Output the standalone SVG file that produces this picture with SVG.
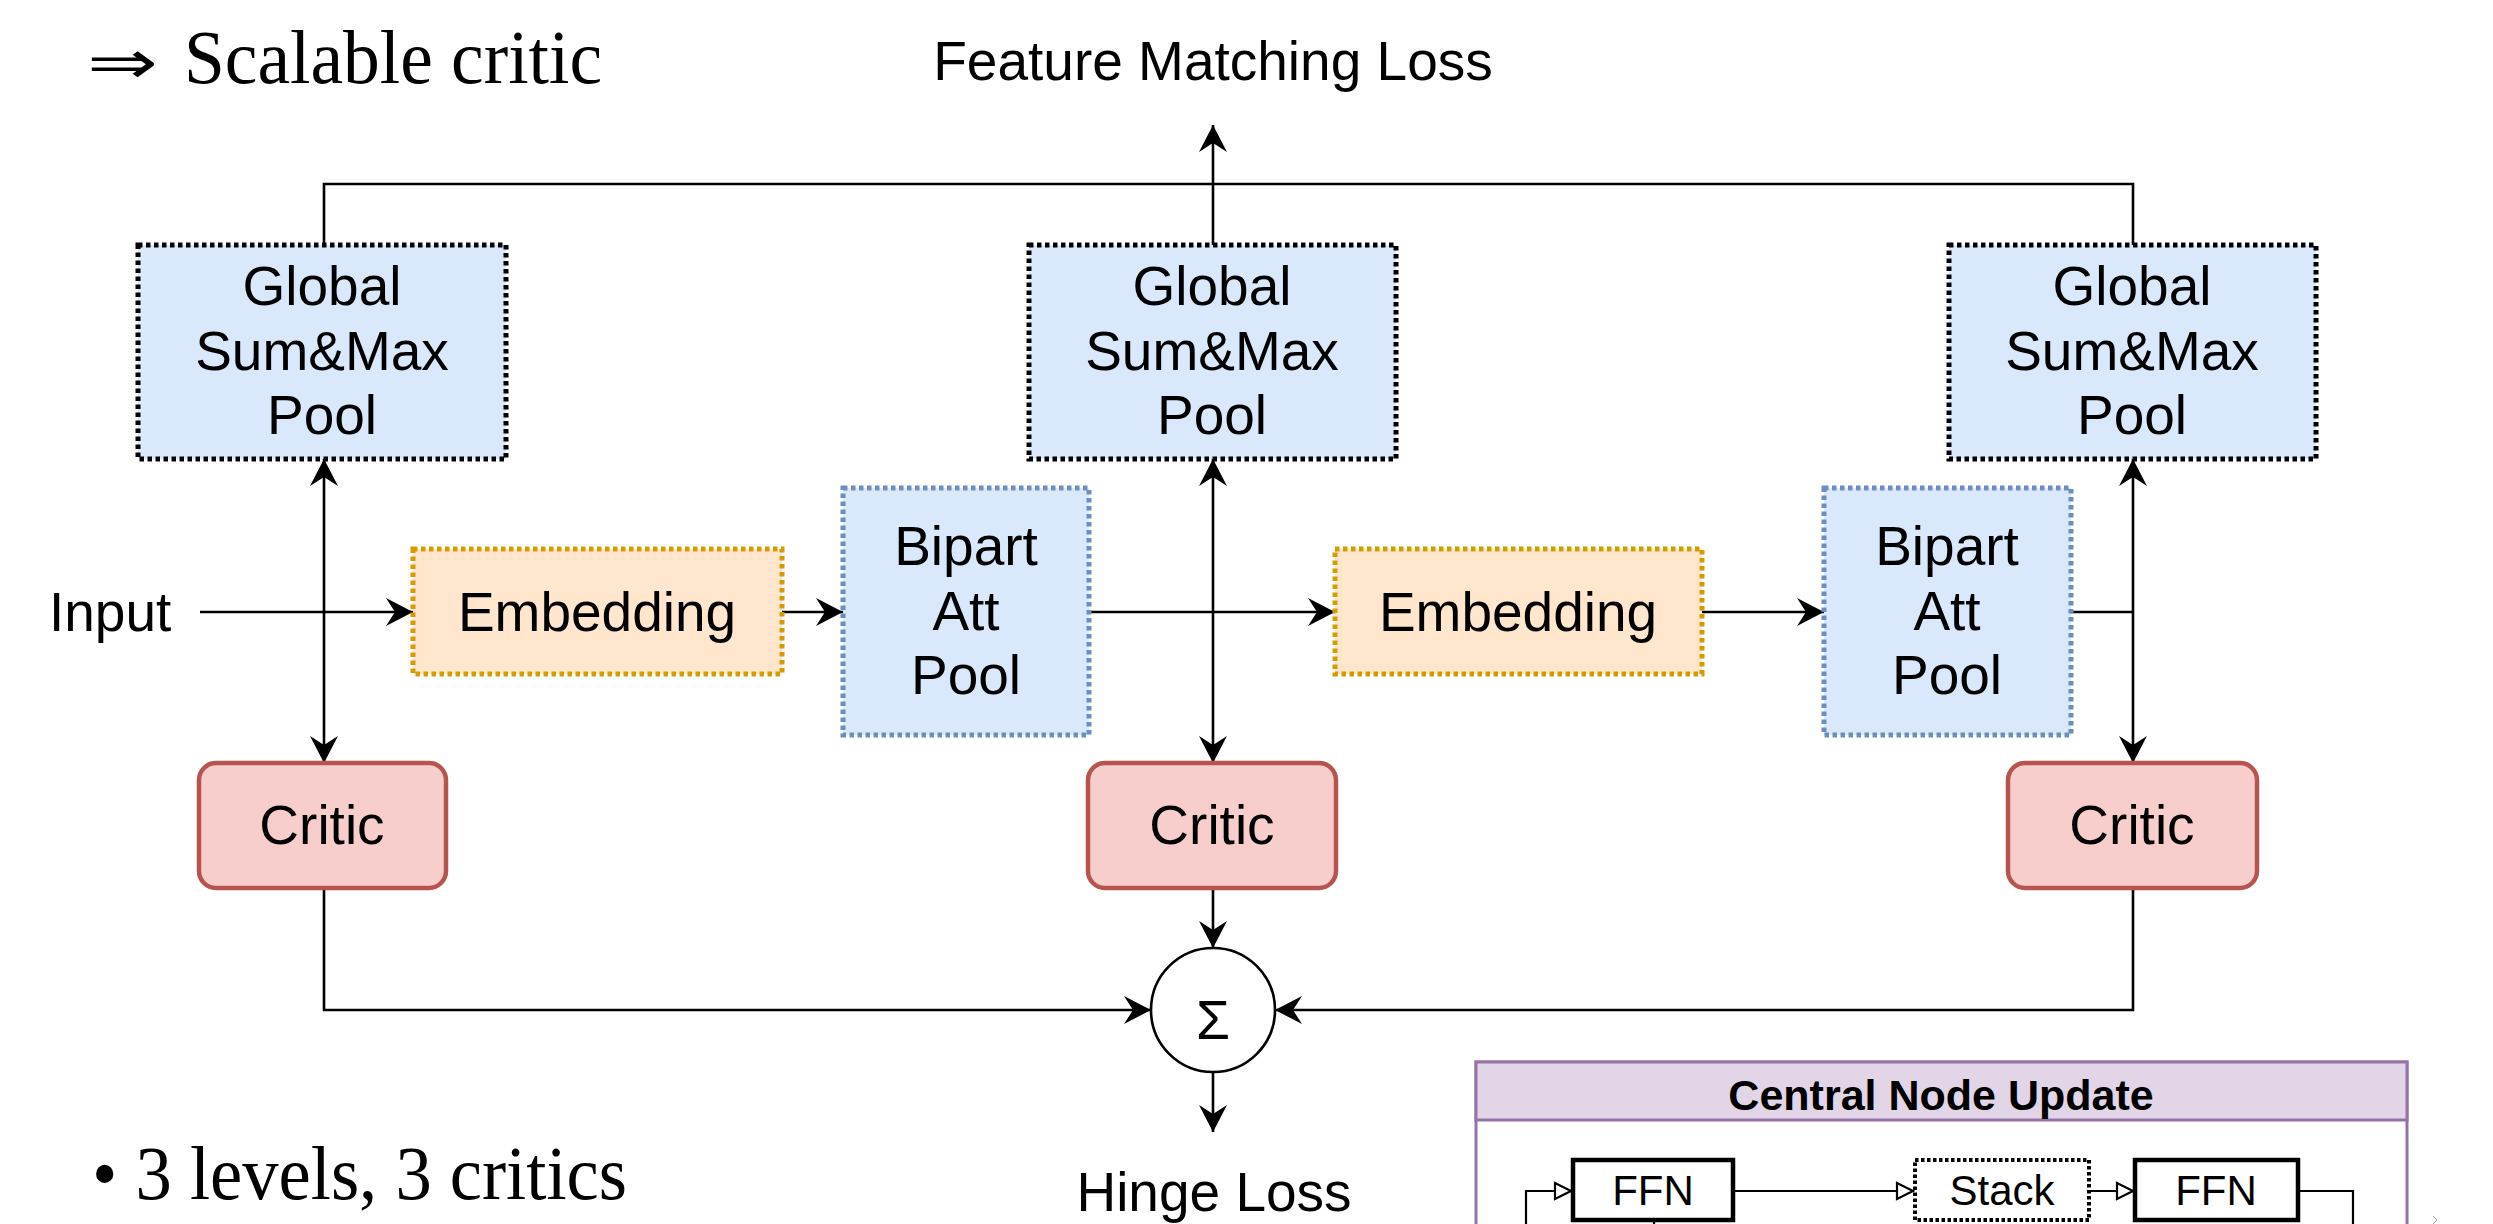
<svg xmlns="http://www.w3.org/2000/svg" width="2493" height="1224" viewBox="0 0 2493 1224">
  <defs>
    <style>
      .lbl { font-family: "Liberation Sans", Arial, sans-serif; font-size: 55px; fill: #000; text-anchor: middle; }
      .serif { font-family: "Liberation Serif", "Times New Roman", serif; font-size: 77px; fill: #000; }
      .pool { fill: #dae8fc; stroke: #000; stroke-width: 5; stroke-dasharray: 4.5 3.5; }
      .bip { fill: #dae8fc; stroke: #6c8ebf; stroke-width: 5; stroke-dasharray: 4.5 3.5; }
      .emb { fill: #ffe6cc; stroke: #d79b00; stroke-width: 5; stroke-dasharray: 4.5 3.5; }
      .critic { fill: #f8cecc; stroke: #b85450; stroke-width: 4.5; }
      .wire { fill: none; stroke: #000; stroke-width: 2.6; }
      .thin { fill: none; stroke: #000; stroke-width: 2.2; }
      .small { font-family: "Liberation Sans", Arial, sans-serif; font-size: 42px; fill: #000; text-anchor: middle; }
      .box { fill: #fff; stroke: #000; stroke-width: 4.5; }
    </style>
    <!-- filled classic arrowhead, tip at the path end -->
    <marker id="arr" markerUnits="userSpaceOnUse" viewBox="-30 -16 32 32" markerWidth="32" markerHeight="32" refX="0" refY="0" orient="auto-start-reverse">
      <path d="M0 0 L-27 -14 L-18 0 L-27 14 Z" fill="#000"/>
    </marker>
    <!-- hollow triangle arrowhead used inside the update panel -->
    <marker id="open" markerUnits="userSpaceOnUse" viewBox="-22 -12 24 24" markerWidth="24" markerHeight="24" refX="0" refY="0" orient="auto">
      <path d="M-1 0 L-17 -8 L-17 8 Z" fill="#fff" stroke="#000" stroke-width="2.2"/>
    </marker>
  </defs>

  <!-- headings -->
  <text x="87" y="83" font-family="DejaVu Sans, sans-serif" font-size="60" textLength="71" lengthAdjust="spacingAndGlyphs">⇒</text>
  <text class="serif" x="184" y="83" textLength="418" lengthAdjust="spacingAndGlyphs">Scalable critic</text>
  <text class="lbl" x="1213" y="80">Feature Matching Loss</text>
  <text class="serif" x="92" y="1199" font-size="76" textLength="535" lengthAdjust="spacingAndGlyphs">• 3 levels, 3 critics</text>
  <text class="lbl" x="1214" y="1211">Hinge Loss</text>
  <text class="lbl" x="49" y="631" style="text-anchor:start">Input</text>

  <!-- connectors -->
  <g id="connectors">
    <path class="wire" d="M324 245 V184 H2133 V245"/>
    <path class="wire" d="M1213 245 V125" marker-end="url(#arr)"/>
    <path class="wire" d="M200 612 H413" marker-end="url(#arr)"/>
    <path class="wire" d="M324 459 V763" marker-start="url(#arr)" marker-end="url(#arr)"/>
    <path class="wire" d="M782 612 H843" marker-end="url(#arr)"/>
    <path class="wire" d="M1089 612 H1335" marker-end="url(#arr)"/>
    <path class="wire" d="M1213 459 V763" marker-start="url(#arr)" marker-end="url(#arr)"/>
    <path class="wire" d="M1702 612 H1824" marker-end="url(#arr)"/>
    <path class="wire" d="M2071 612 H2133"/>
    <path class="wire" d="M2133 459 V763" marker-start="url(#arr)" marker-end="url(#arr)"/>
    <path class="wire" d="M324 888 V1010 H1151" marker-end="url(#arr)"/>
    <path class="wire" d="M2133 888 V1010 H1275" marker-end="url(#arr)"/>
    <path class="wire" d="M1213 888 V948" marker-end="url(#arr)"/>
    <path class="wire" d="M1213 1072 V1132" marker-end="url(#arr)"/>
  </g>

  <!-- global pooling nodes -->
  <g id="pool1">
    <rect class="pool" x="138" y="245" width="368" height="214"/>
    <text class="lbl" x="322" y="305">Global</text>
    <text class="lbl" x="322" y="370">Sum&amp;Max</text>
    <text class="lbl" x="322" y="434">Pool</text>
  </g>
  <g id="pool2">
    <rect class="pool" x="1029" y="245" width="367" height="214"/>
    <text class="lbl" x="1212" y="305">Global</text>
    <text class="lbl" x="1212" y="370">Sum&amp;Max</text>
    <text class="lbl" x="1212" y="434">Pool</text>
  </g>
  <g id="pool3">
    <rect class="pool" x="1949" y="245" width="367" height="214"/>
    <text class="lbl" x="2132" y="305">Global</text>
    <text class="lbl" x="2132" y="370">Sum&amp;Max</text>
    <text class="lbl" x="2132" y="434">Pool</text>
  </g>

  <!-- embeddings -->
  <g id="embed1">
    <rect class="emb" x="413" y="549" width="369" height="125"/>
    <text class="lbl" x="597" y="631">Embedding</text>
  </g>
  <g id="embed2">
    <rect class="emb" x="1335" y="549" width="367" height="125"/>
    <text class="lbl" x="1518" y="631">Embedding</text>
  </g>

  <!-- bipartite attention pooling -->
  <g id="bipart1">
    <rect class="bip" x="843" y="488" width="246" height="247"/>
    <text class="lbl" x="966" y="565">Bipart</text>
    <text class="lbl" x="966" y="630">Att</text>
    <text class="lbl" x="966" y="694">Pool</text>
  </g>
  <g id="bipart2">
    <rect class="bip" x="1824" y="488" width="247" height="247"/>
    <text class="lbl" x="1947" y="565">Bipart</text>
    <text class="lbl" x="1947" y="630">Att</text>
    <text class="lbl" x="1947" y="694">Pool</text>
  </g>

  <!-- critics -->
  <g id="critic1">
    <rect class="critic" x="199" y="763" width="247" height="125" rx="17"/>
    <text class="lbl" x="322" y="844">Critic</text>
  </g>
  <g id="critic2">
    <rect class="critic" x="1088" y="763" width="248" height="125" rx="17"/>
    <text class="lbl" x="1212" y="844">Critic</text>
  </g>
  <g id="critic3">
    <rect class="critic" x="2008" y="763" width="249" height="125" rx="17"/>
    <text class="lbl" x="2132" y="844">Critic</text>
  </g>

  <!-- summation -->
  <g id="sum">
    <circle cx="1213" cy="1010" r="62" fill="#fff" stroke="#000" stroke-width="2.6"/>
    <text class="lbl" x="1213" y="1039" font-size="74">Σ</text>
  </g>

  <!-- central node update panel -->
  <g id="central-node-update">
    <rect x="1476" y="1062" width="931" height="200" fill="#fff" stroke="#9673a6" stroke-width="3"/>
    <rect x="1476" y="1062" width="931" height="58" fill="#e1d5e7" stroke="#9673a6" stroke-width="3"/>
    <text x="1941" y="1110" font-family="Liberation Sans, Arial, sans-serif" font-size="43" font-weight="bold" text-anchor="middle">Central Node Update</text>
    <g id="cnu-links">
      <path class="thin" d="M1526 1240 V1191 H1572" marker-end="url(#open)"/>
      <path class="thin" d="M1733 1191 H1914" marker-end="url(#open)"/>
      <path class="thin" d="M2089 1191 H2134" marker-end="url(#open)"/>
      <path class="thin" d="M2298 1191 H2353 V1240"/>
      <path class="thin" d="M1654 1220 V1240"/>
      <path d="M2433 1216 L2437 1220 L2433 1224" fill="none" stroke="#999" stroke-width="1"/>
    </g>
    <g id="ffn1">
      <rect class="box" x="1573" y="1160" width="160" height="60"/>
      <text class="small" x="1653" y="1205">FFN</text>
    </g>
    <g id="stack">
      <rect x="1915" y="1160" width="174" height="60" fill="#fff" stroke="#000" stroke-width="4" stroke-dasharray="3.5 2.5"/>
      <text class="small" x="2002" y="1205">Stack</text>
    </g>
    <g id="ffn2">
      <rect class="box" x="2135" y="1160" width="163" height="60"/>
      <text class="small" x="2216" y="1205">FFN</text>
    </g>
  </g>
</svg>
